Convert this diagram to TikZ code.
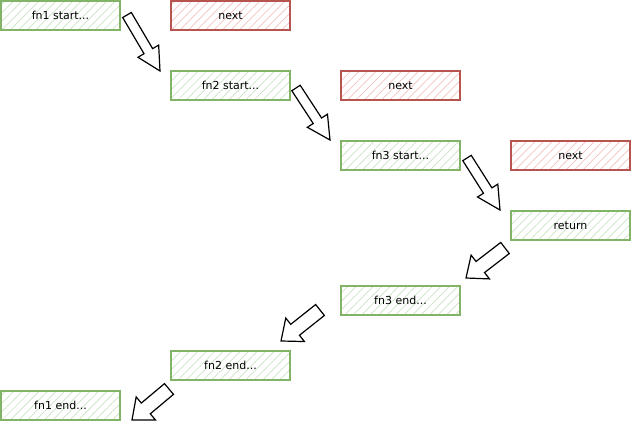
\documentclass[tikz,border=0pt]{standalone}
\usepackage{fontspec}
\setmainfont{DejaVu Sans}
\usetikzlibrary{patterns.meta,calc}
\definecolor{gline}{HTML}{82B366}
\definecolor{gfill}{HTML}{C9E3C3}
\definecolor{rline}{HTML}{B85450}
\definecolor{rfill}{HTML}{F2C2C0}
\tikzset{
  box/.style={minimum width=119pt, minimum height=29pt, inner sep=0pt, line width=1.1pt,
    font=\fontsize{11}{13}\selectfont, text=black},
  gbox/.style={box, draw=gline, pattern={Lines[angle=45,distance=6pt,line width=0.7pt]}, pattern color=gfill},
  rbox/.style={box, draw=rline, pattern={Lines[angle=45,distance=6pt,line width=0.7pt]}, pattern color=rfill},
  blockarrow/.style={draw=black, fill=white, line width=1.2pt, line join=miter},
}
\begin{document}
\begin{tikzpicture}[x=1pt,y=-1pt]
\useasboundingbox (0,0) rectangle (631,422);
\node[gbox] (f1s) at (60.5,15.5) {fn1 start...};
\node[rbox] (n1) at (230.5,15.5) {next};
\node[gbox] (f2s) at (230.5,85.5) {fn2 start...};
\node[rbox] (n2) at (400.5,85.5) {next};
\node[gbox] (f3s) at (400.5,155.5) {fn3 start...};
\node[rbox] (n3) at (570.5,155.5) {next};
\node[gbox] (ret) at (570.5,225.5) {return};
\node[gbox] (f3e) at (400.5,300.5) {fn3 end...};
\node[gbox] (f2e) at (230.5,365.5) {fn2 end...};
\node[gbox] (f1e) at (60.5,405.5) {fn1 end...};
% arrow ends
\coordinate (a1s) at (127,15);  \coordinate (a1e) at (160,71);
\coordinate (a2s) at (296,88);  \coordinate (a2e) at (330,140);
\coordinate (a3s) at (467,158); \coordinate (a3e) at (500,210);
\coordinate (a4s) at (505,248); \coordinate (a4e) at (466,278);
\coordinate (a5s) at (320,310); \coordinate (a5e) at (281,341);
\coordinate (a6s) at (169,389); \coordinate (a6e) at (132,420);
\foreach \s/\e/\sw/\hw/\hl in {a1s/a1e/5/12/23,a2s/a2e/5/12/23,a3s/a3e/5/12/23,a4s/a4e/7/15/18,a5s/a5e/7/15/18,a6s/a6e/7/15/18}{
  \path let \p1=(\s), \p2=(\e), \n1={atan2(\y2-\y1,\x2-\x1)}, \n2={veclen(\x2-\x1,\y2-\y1)} in
    \pgfextra{\xdef\ang{\n1}\xdef\len{\n2}};
  \draw[blockarrow, shift={(\s)}, rotate=\ang, x=1pt, y=1pt]
    (0,\sw) -- ({\len-\hl},\sw) -- ({\len-\hl},\hw) -- ({\len},0) -- ({\len-\hl},-\hw)
    -- ({\len-\hl},-\sw) -- (0,-\sw) -- cycle;
}
\end{tikzpicture}
\end{document}
